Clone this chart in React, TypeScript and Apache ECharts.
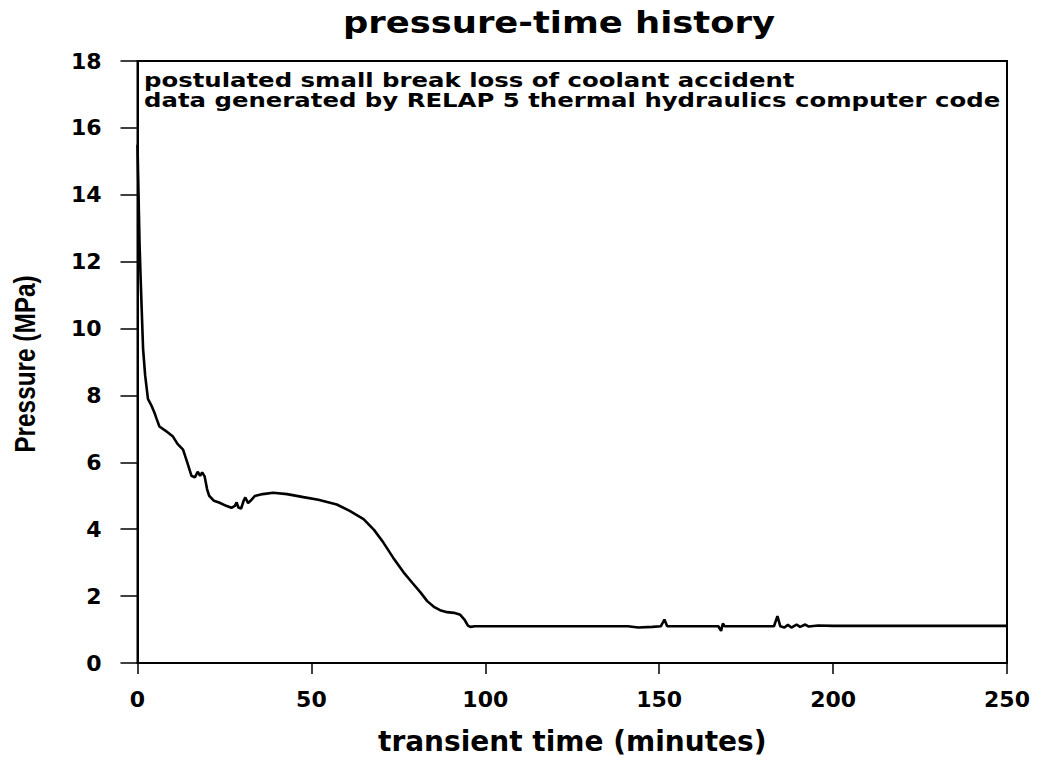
import React, { useEffect, useRef } from "react";
import * as echarts from "echarts";

// transient time (minutes)
const times = [
  0, 0.3, 0.6, 0.9, 1.2, 1.6, 2.2, 3.0, 4.0, 5.0, 5.5, 6.3, 8.0, 10.2, 11.5, 13.1, 14.3,
  15.5, 16.5, 17.3, 18.0, 18.6, 19.3, 20.0, 20.6, 22.0, 23.6, 25.5, 27.0, 28.0, 28.5,
  29.0, 29.8, 30.5, 31.0, 31.8, 32.5, 33.7, 36, 39, 43, 47.7, 52, 57.3, 61, 65, 68,
  70.7, 73.5, 76.5, 79, 81.3, 83.3, 85.2, 87, 89, 91, 92.8, 94, 95, 95.7, 97, 113,
  130, 141, 144, 148, 150.5, 151.5, 152.3, 155, 167, 167.8, 168.3, 168.8, 183, 184,
  184.8, 186, 187, 188, 189.5, 190.5, 192, 193, 195.7, 200, 220, 250,
];
// pressure (MPa)
const pressures = [
  15.5, 14.0, 12.5, 11.5, 10.6, 9.4, 8.6, 7.9, 7.7, 7.45, 7.3, 7.07, 6.95, 6.77, 6.55, 6.38, 6.0,
  5.6, 5.55, 5.72, 5.6, 5.7, 5.58, 5.2, 5.0, 4.85, 4.79, 4.7, 4.64, 4.7, 4.8,
  4.65, 4.62, 4.85, 4.95, 4.78, 4.85, 4.99, 5.05, 5.09, 5.05, 4.96, 4.88, 4.74, 4.55, 4.3, 3.98,
  3.6, 3.15, 2.71, 2.4, 2.12, 1.85, 1.68, 1.58, 1.52, 1.5, 1.44, 1.3, 1.12, 1.08, 1.1, 1.1,
  1.1, 1.1, 1.06, 1.08, 1.1, 1.3, 1.1, 1.1, 1.1, 0.96, 1.18, 1.1, 1.1, 1.4,
  1.1, 1.06, 1.14, 1.06, 1.15, 1.08, 1.15, 1.09, 1.12, 1.11, 1.11, 1.11,
];
const xTicks = { min: 0, max: 250, interval: 50 };
const yTicks = { min: 0, max: 18, interval: 2 };

const titleText = "pressure-time history";
const noteLines = [
  "postulated small break loss of coolant accident",
  "data generated by RELAP 5 thermal hydraulics computer code",
];
const xName = "transient time (minutes)";
const yName = "Pressure (MPa)";

const FONT = "'DejaVu Sans', Verdana, sans-serif";

export default function App() {
  const ref = useRef<HTMLDivElement>(null);
  useEffect(() => {
    document.body.style.margin = "0";
    const chart = echarts.init(ref.current!, null, { renderer: "svg" });
    const data = times.map((t, i) => [t, pressures[i]]);
    chart.setOption({
      animation: false,
      backgroundColor: "#fff",
      grid: {
        left: 137.5,
        right: 34,
        top: 61,
        bottom: 93,
        show: true,
        borderColor: "#000",
        borderWidth: 2,
      },
      graphic: [
        {
          type: "text",
          x: 559,
          y: 22,
          scaleX: 1.14,
          style: {
            text: titleText,
            fontFamily: FONT,
            fontWeight: "bold",
            fontSize: 31,
            fill: "#000",
            textAlign: "center",
            textVerticalAlign: "middle",
          },
        },
        ...noteLines.map((line, i) => ({
          type: "text",
          x: 144,
          y: 80.5 + i * 19.5,
          scaleX: 1.25,
          style: {
            text: line,
            fontFamily: FONT,
            fontWeight: "bold",
            fontSize: 19.5,
            fill: "#000",
            textAlign: "left",
            textVerticalAlign: "middle",
          },
        })),
        {
          type: "text",
          x: 25,
          y: 364,
          rotation: Math.PI / 2,
          scaleX: 0.84,
          style: {
            text: yName,
            fontFamily: "'Liberation Sans', Arial, sans-serif",
            fontWeight: "bold",
            fontSize: 29,
            fill: "#000",
            textAlign: "center",
            textVerticalAlign: "middle",
          },
        },
      ],
      xAxis: {
        type: "value",
        min: xTicks.min,
        max: xTicks.max,
        interval: xTicks.interval,
        name: xName,
        nameLocation: "middle",
        nameGap: 64,
        nameTextStyle: {
          fontFamily: FONT,
          fontWeight: "bold",
          fontSize: 28,
          color: "#000",
        },
        axisLine: { show: true, lineStyle: { color: "#000", width: 2 } },
        axisTick: { show: true, inside: false, length: 11, lineStyle: { color: "#000", width: 1.5 } },
        axisLabel: {
          margin: 25,
          fontFamily: FONT,
          fontWeight: "bold",
          fontSize: 22,
          color: "#000",
        },
        splitLine: { show: false },
      },
      yAxis: {
        type: "value",
        min: yTicks.min,
        max: yTicks.max,
        interval: yTicks.interval,
        axisLine: { show: true, lineStyle: { color: "#000", width: 2 } },
        axisTick: { show: true, inside: false, length: 17, lineStyle: { color: "#000", width: 1.5 } },
        axisLabel: {
          margin: 36,
          fontFamily: FONT,
          fontWeight: "bold",
          fontSize: 22,
          color: "#000",
        },
        splitLine: { show: false },
      },
      series: [
        {
          type: "line",
          data,
          showSymbol: false,
          symbol: "none",
          lineStyle: { color: "#000", width: 2.6 },
        },
      ],
    });
    return () => chart.dispose();
  }, []);
  return (
    <div
      ref={ref}
      style={{ width: 1041, height: 760, position: "absolute", left: 0, top: 0 }}
    />
  );
}
